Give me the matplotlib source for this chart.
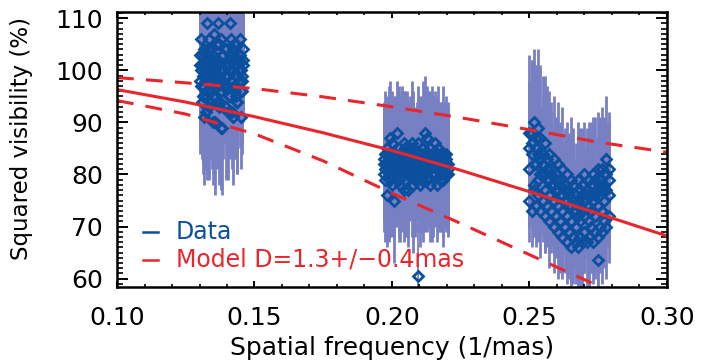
import matplotlib
matplotlib.use("Agg")
import matplotlib.pyplot as plt
from matplotlib.ticker import MultipleLocator, FormatStrFormatter

# ---------------- data ----------------
# cluster 1 (short baselines)
c1_f = [0.1302, 0.1306, 0.1310, 0.1314, 0.1318, 0.1322, 0.1326, 0.1330, 0.1334, 0.1338,
        0.1342, 0.1346, 0.1350, 0.1354, 0.1358, 0.1362, 0.1366, 0.1370, 0.1374, 0.1378,
        0.1382, 0.1386, 0.1394, 0.1398, 0.1402, 0.1406, 0.1410, 0.1414, 0.1418, 0.1422,
        0.1426, 0.1430, 0.1434, 0.1438, 0.1442, 0.1446, 0.1450, 0.1454, 0.1458]
c1_va = [103, 97, 101, 95, 104, 92, 109, 99, 106, 94, 100, 96, 90, 102, 98, 105, 109, 93, 100, 89,
         103, 97, 99, 104, 92, 100, 109, 106, 98, 91, 102, 97, 105, 94, 100, 103, 96, 99, 101]
c1_vb = [101, 106, 94, 99, 91, 103, 96, 100, 93, 98, 104, 101, 95, 107, 90, 102, 97, 99, 94, 106,
         89, 100, 104, 93, 97, 101, 95, 103, 92, 100, 105, 96, 99, 94, 102, 106, 91, 98, 104]
c1_vc = [98, 100, 103, 97, 99, 101, 95, 104, 98, 102, 96, 99, 103, 97, 100, 94, 101, 105, 98, 96,
         100, 103, 97, 101, 99, 95, 102, 98, 100, 104, 97, 101, 95, 99, 103, 98, 100, 96, 102]
c1_err = [14, 12, 11, 15, 13, 11, 16, 12, 14, 11, 13, 15, 12, 11, 14, 13, 11, 15, 13, 12,
          13, 14, 11, 14, 13, 11, 12, 14, 11, 13, 14, 11, 12, 14, 11, 13, 10, 12, 11]

# cluster 2 (intermediate baselines)
c2_f = [0.1970, 0.1976, 0.1982, 0.1988, 0.1994, 0.2000, 0.2006, 0.2012, 0.2018, 0.2024,
        0.2030, 0.2036, 0.2042, 0.2048, 0.2054, 0.2060, 0.2066, 0.2072, 0.2078, 0.2084,
        0.2090, 0.2096, 0.2102, 0.2108, 0.2114, 0.2120, 0.2126, 0.2132, 0.2138, 0.2144,
        0.2150, 0.2156, 0.2162, 0.2168, 0.2174, 0.2180, 0.2186, 0.2192, 0.2198, 0.2204]
c2_va = [82, 79, 85, 80, 87, 78, 83, 81, 88, 79, 84, 82, 77, 85, 80, 83, 81, 86, 78, 82,
         84, 80, 83, 79, 85, 81, 87, 82, 78, 84, 80, 83, 81, 85, 79, 82, 84, 80, 83, 81]
c2_vb = [80, 84, 76, 83, 81, 86, 75, 84, 80, 85, 78, 83, 86, 79, 84, 77, 85, 80, 83, 79,
         81, 86, 78, 84, 80, 88, 79, 83, 85, 80, 82, 86, 78, 81, 84, 80, 79, 83, 80, 82]
c2_vc = [83, 81, 82, 84, 79, 82, 80, 83, 82, 81, 80, 84, 81, 82, 83, 80, 82, 84, 81, 80,
         83, 82, 81, 85, 82, 80, 83, 84, 81, 82, 83, 80, 84, 82, 81, 83, 81, 82, 84, 80]
c2_err = [11, 12, 10, 13, 11, 10, 12, 11, 10, 12, 11, 13, 10, 11, 12, 11, 10, 12, 13, 11,
          10, 11, 12, 10, 13, 11, 10, 12, 11, 13, 12, 10, 11, 12, 10, 11, 13, 10, 11, 12]

# cluster 3 (long baselines)
c3_f = [0.2500, 0.2508, 0.2516, 0.2524, 0.2532, 0.2540, 0.2548, 0.2556, 0.2564, 0.2572,
        0.2580, 0.2588, 0.2596, 0.2604, 0.2612, 0.2620, 0.2628, 0.2636, 0.2644, 0.2652,
        0.2660, 0.2668, 0.2676, 0.2684, 0.2692, 0.2700, 0.2708, 0.2716, 0.2724, 0.2732,
        0.2740, 0.2748, 0.2756, 0.2764, 0.2772, 0.2780, 0.2788]
c3_va = [88, 86, 90, 85, 89, 87, 84, 86, 83, 84, 81, 83, 80, 82, 79, 81, 78, 80, 77, 79,
         78, 76, 79, 77, 78, 80, 77, 79, 78, 80, 79, 81, 78, 81, 80, 83, 81]
c3_vb = [81, 84, 78, 82, 79, 83, 80, 77, 79, 76, 78, 75, 77, 74, 76, 73, 75, 72, 74, 71,
         73, 70, 72, 71, 73, 72, 74, 71, 73, 75, 72, 74, 76, 73, 75, 77, 76]
c3_vc = [75, 73, 77, 74, 76, 73, 75, 72, 74, 71, 73, 70, 72, 69, 71, 68, 70, 67, 69, 66,
         68, 67, 66, 68, 67, 69, 67, 68, 70, 67, 69, 68, 70, 69, 71, 70, 72]
c3_vd = [85, 88, 82, 87, 84, 80, 82, 80, 81, 79, 80, 78, 79, 77, 78, 76, 77, 75, 76, 74,
         75, 73, 75, 74, 76, 75, 76, 74, 76, 78, 76, 77, 79, 77, 78, 80, 79]
c3_erra = [15, 16, 14, 16, 15, 14, 15, 13, 14, 12, 13, 12, 11, 12, 11, 12, 11, 10, 11, 12,
           11, 10, 11, 12, 11, 10, 12, 11, 12, 11, 12, 11, 13, 12, 11, 12, 11]
c3_errb = [11, 12, 10, 11, 12, 10, 11, 12, 10, 11, 12, 10, 11, 10, 12, 11, 10, 11, 10, 12,
           11, 10, 11, 10, 12, 11, 10, 11, 12, 10, 11, 10, 12, 11, 10, 11, 10]
c3_errc = [8, 7, 9, 8, 7, 9, 8, 7, 8, 9, 8, 9, 8, 9, 10, 8, 9, 8, 9, 10,
           9, 8, 9, 10, 9, 8, 9, 10, 9, 8, 9, 10, 9, 10, 9, 10, 9]
c3_errd = [13, 14, 12, 14, 13, 12, 13, 12, 12, 11, 12, 11, 11, 10, 11, 10, 11, 10, 11, 10,
           11, 10, 11, 10, 11, 10, 11, 10, 11, 10, 11, 10, 11, 10, 11, 10, 11]

# isolated outliers
out_f = [0.2096, 0.2750]
out_v = [60.5, 63.6]
out_err = [10, 5]

# model curves (uniform disk), read at these frequencies
model_f = [0.100, 0.125, 0.150, 0.175, 0.200, 0.225, 0.250, 0.275, 0.300]
model_mid = [96.3, 93.9, 91.1, 88.0, 84.6, 80.8, 76.7, 72.5, 68.2]
model_hi = [98.6, 97.6, 96.5, 94.9, 93.0, 90.9, 88.6, 86.2, 84.3]
model_lo = [94.2, 91.6, 87.8, 82.6, 76.4, 70.6, 64.6, 58.6, 52.8]

legend_labels = ["Data", "Model D=1.3+/\u22120.4mas"]

# ---------------- style ----------------
BLUE = "#0b4f9f"
ERR = "#7880c4"
RED = "#e8262b"
plt.rcParams["font.family"] = ["DejaVu Sans"]

fig = plt.figure(figsize=(7.10, 3.62), dpi=100)
ax = fig.add_axes([0.1648, 0.2072, 0.7746, 0.7597])

series = [
    (c1_f, c1_va, c1_err), (c1_f, c1_vb, c1_err), (c1_f, c1_vc, c1_err),
    (c2_f, c2_va, c2_err), (c2_f, c2_vb, c2_err), (c2_f, c2_vc, c2_err),
    (c3_f, c3_va, c3_erra), (c3_f, c3_vb, c3_errb), (c3_f, c3_vc, c3_errc), (c3_f, c3_vd, c3_errd),
]

for f, v, e in series:
    ax.errorbar(f, v, yerr=e, fmt="none", ecolor=ERR, elinewidth=2.0, capsize=0, zorder=1)
ax.errorbar(out_f, out_v, yerr=out_err, fmt="none", ecolor=ERR, elinewidth=1.3, capsize=0, zorder=1)

for f, v, e in series + [(out_f, out_v, out_err)]:
    ax.plot(f, v, linestyle="none", marker="D", markersize=5.6, markerfacecolor="none",
            markeredgecolor=BLUE, markeredgewidth=2.0, zorder=2)

ax.plot(model_f, model_mid, color=RED, lw=2.2, zorder=3, solid_capstyle="butt")
for mv in (model_hi, model_lo):
    ax.plot(model_f, mv, color=RED, lw=2.2, zorder=3, dashes=(5.5, 4), dash_capstyle="butt")

ax.set_xlim(0.10, 0.30)
ax.set_ylim(58.4, 111.2)

ax.xaxis.set_major_locator(MultipleLocator(0.05))
ax.xaxis.set_minor_locator(MultipleLocator(0.01))
ax.xaxis.set_major_formatter(FormatStrFormatter("%.2f"))
ax.yaxis.set_major_locator(MultipleLocator(10))
ax.yaxis.set_minor_locator(MultipleLocator(1))

for sp in ax.spines.values():
    sp.set_linewidth(1.8)
    sp.set_color("black")
    sp.set_zorder(5)

ax.tick_params(axis="x", which="major", direction="in", length=4, width=1.4,
               top=True, bottom=True, labelsize=18, pad=14)
ax.tick_params(axis="x", which="minor", direction="in", length=2, width=1.2, top=True, bottom=True)
ax.tick_params(axis="y", which="major", direction="in", length=8, width=1.4,
               left=True, right=True, labelsize=18, pad=10)
ax.tick_params(axis="y", which="minor", direction="in", length=4, width=1.2, left=True, right=True)

fig.text(392 / 710, 1 - 348 / 362, "Spatial frequency (1/mas)", ha="center", va="center", fontsize=18)
fig.text(22 / 710, 1 - 139 / 362, "Squared visibility (%)", ha="center", va="center",
         rotation=90, fontsize=16.5)

# legend (IDL style: short line + coloured text)
leg_y = [(287 - 232) / 275, (287 - 260) / 275]
leg_c = [BLUE, RED]
for lab, yy, cc in zip(legend_labels, leg_y, leg_c):
    ax.plot([0.047, 0.075], [yy, yy], transform=ax.transAxes, color=cc, lw=1.8, zorder=4)
    ax.text(0.107, yy, lab, transform=ax.transAxes, color=cc, fontsize=17, va="center", ha="left", zorder=4)

fig.savefig("out.png", dpi=100)
